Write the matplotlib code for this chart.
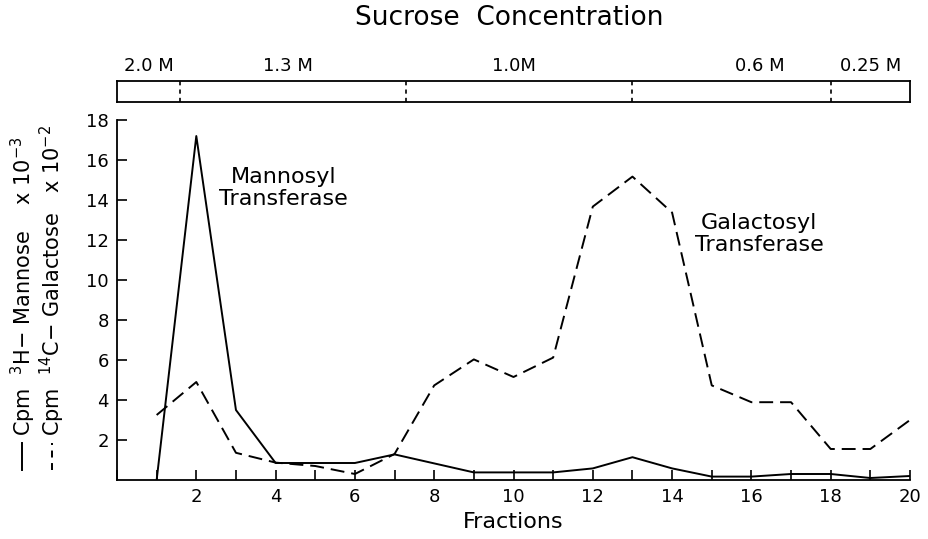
import matplotlib
matplotlib.use('Agg')
import matplotlib.pyplot as plt
from matplotlib.lines import Line2D

# fraction numbers and the two activity profiles
fractions = list(range(1, 21))
mannose = [0, 17.2, 3.5, 0.85, 0.85, 0.85, 1.28, 0.83, 0.38, 0.38,
           0.38, 0.58, 1.14, 0.58, 0.17, 0.17, 0.3, 0.3, 0.1, 0.2]
galactose = [3.25, 4.9, 1.36, 0.87, 0.7, 0.3, 1.3, 4.73, 6.03, 5.15,
             6.12, 13.67, 15.17, 13.37, 4.73, 3.89, 3.89, 1.55, 1.55, 3.0]

# sucrose gradient bar
sucrose_labels = ['2.0 M', '1.3 M', '1.0M', '0.6 M', '0.25 M']
sucrose_label_pos = [0.8, 4.3, 10.0, 16.2, 19.0]
sucrose_bounds = [1.6, 7.3, 13.0, 18.0]

x_ticks = list(range(0, 21))
x_labels = [str(t) if t % 2 == 0 and t > 0 else '' for t in x_ticks]
y_ticks = [2, 4, 6, 8, 10, 12, 14, 16, 18]


def main():
    plt.rcParams['font.family'] = 'DejaVu Sans'
    plt.rcParams['lines.scale_dashes'] = False
    fig = plt.figure(figsize=(9.29, 5.39), dpi=100)

    ax = fig.add_axes([117 / 929, 1 - 480 / 539, 793 / 929, 360 / 539])
    ax.plot(fractions, mannose, color='black', lw=1.4)
    ax.plot(fractions, galactose, color='black', lw=1.4, dashes=(10, 5))
    ax.set_xlim(0, 20)
    ax.set_ylim(0, 18)
    ax.set_xticks(x_ticks)
    ax.set_xticklabels(x_labels)
    ax.set_yticks(y_ticks)
    ax.spines['top'].set_visible(False)
    ax.spines['right'].set_visible(False)
    ax.spines['left'].set_linewidth(1.3)
    ax.spines['bottom'].set_linewidth(1.3)
    ax.tick_params(axis='both', direction='in', length=7, width=1.2,
                   labelsize=13, pad=6)
    ax.set_xlabel('Fractions', fontsize=16, labelpad=4)

    ax.text(4.2, 14.6, 'Mannosyl\nTransferase', ha='center', va='center',
            fontsize=16, linespacing=1.15)
    ax.text(16.2, 12.3, 'Galactosyl\nTransferase', ha='center', va='center',
            fontsize=16, linespacing=1.15)

    # y axis "legend" label, two rotated lines
    fig.add_artist(Line2D([22 / 929, 22 / 929], [1 - 470 / 539, 1 - 443 / 539],
                          color='black', lw=1.4))
    fig.add_artist(Line2D([52 / 929, 52 / 929], [1 - 470 / 539, 1 - 443 / 539],
                          color='black', lw=1.4, dashes=(5, 4)))
    fig.text(23 / 929, 1 - 436 / 539,
             r'Cpm  $^{3}$H$-$ Mannose    x 10$^{-3}$',
             rotation=90, ha='center', va='bottom', fontsize=15)
    fig.text(52 / 929, 1 - 436 / 539,
             r'Cpm  $^{14}$C$-$ Galactose   x 10$^{-2}$',
             rotation=90, ha='center', va='bottom', fontsize=15)

    # sucrose concentration bar
    bar = fig.add_axes([117 / 929, 1 - 102 / 539, 793 / 929, 21 / 539])
    bar.set_xlim(0, 20)
    bar.set_ylim(0, 1)
    bar.set_xticks([])
    bar.set_yticks([])
    for s in bar.spines.values():
        s.set_linewidth(1.3)
    for b in sucrose_bounds:
        bar.axvline(b, color='black', lw=1.2, dashes=(3, 3))
    for lab, pos in zip(sucrose_labels, sucrose_label_pos):
        bar.text(pos, 1.3, lab, ha='center', va='bottom', fontsize=13)

    fig.text(509 / 929, 1 - 18 / 539, 'Sucrose  Concentration',
             ha='center', va='center', fontsize=19)

    fig.savefig('out.png', dpi=100)


if __name__ == '__main__':
    main()
